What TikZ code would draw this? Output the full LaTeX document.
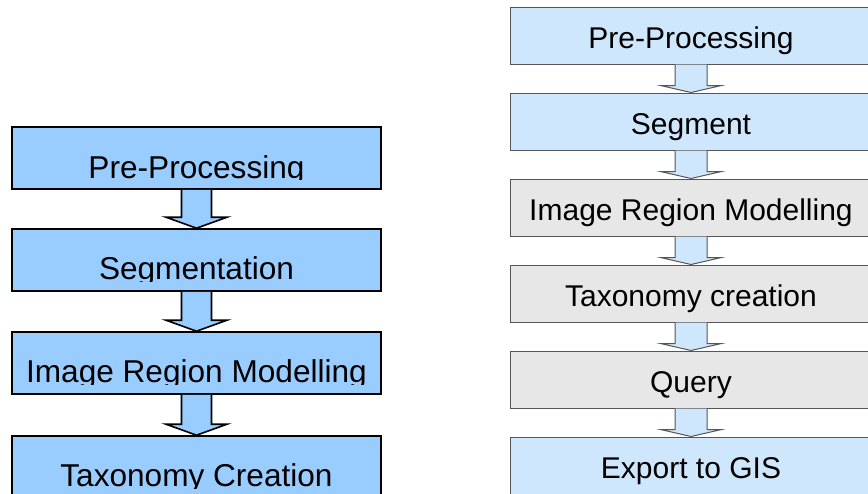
\documentclass[tikz,border=0pt]{standalone}
\usepackage{fontspec}
\setmainfont{Liberation Sans}
\usepackage{tikz}
\usetikzlibrary{calc}
\usepackage{xcolor}

\definecolor{leftblue}{RGB}{153,204,255}
\definecolor{paleblue}{RGB}{207,231,252}
\definecolor{palegrey}{RGB}{231,231,231}
\definecolor{edgegrey}{RGB}{85,85,85}

\tikzset{
  leftbox/.style={draw=black, line width=1.6pt, fill=leftblue, minimum width=369pt, minimum height=62pt, inner sep=0pt},
  lefttext/.style={anchor=base, inner sep=0pt, font=\fontsize{31.6}{36}\selectfont},
  leftarrow/.style={draw=black, line width=1.6pt, fill=leftblue},
  rightbox/.style={draw=edgegrey, line width=1pt, fill=paleblue, minimum width=362pt, minimum height=57pt, inner sep=0pt, text height=25pt, text depth=0pt, font=\fontsize{30}{34}\selectfont},
  greybox/.style={rightbox, fill=palegrey},
  rightarrow/.style={draw=edgegrey, line width=1pt, fill=paleblue},
}

% block arrow: style, from, to, shaft half width, head half width, head length
\newcommand{\blockarrow}[6]{%
  \draw[#1] ($(#2.south)+(-#4,0)$) -- ($(#3.north)+(-#4,-#6)$) -- ($(#3.north)+(-#5,-#6)$) -- (#3.north) -- ($(#3.north)+(#5,-#6)$) -- ($(#3.north)+(#4,-#6)$) -- ($(#2.south)+(#4,0)$);
}

\begin{document}
\begin{tikzpicture}[x=1pt,y=1pt,yscale=-1]
  \useasboundingbox (0,0) rectangle (868,493);
  \clip (0,0) rectangle (868,493);

  % Left flow
  \node[leftbox] (lpre) at (196.5,158) {};
  \node[leftbox] (lseg) at (196.5,260) {};
  \node[leftbox] (lirm) at (196.5,363) {};
  \node[leftbox] (ltax) at (196.5,467) {};

  % labels cut just under the baseline
  \begin{scope}
    \clip (lpre.north west) rectangle ($(lpre.center)+(180,21)$);
    \node[lefttext] (lpretext) at ($(lpre.center)+(0,20)$) {Pre-Processing};
  \end{scope}
  \begin{scope}
    \clip (lseg.north west) rectangle ($(lseg.center)+(180,21)$);
    \node[lefttext] (lsegtext) at ($(lseg.center)+(0,19.5)$) {Segmentation};
  \end{scope}
  \begin{scope}
    \clip (lirm.north west) rectangle ($(lirm.center)+(180,21)$);
    \node[lefttext] (lirmtext) at ($(lirm.center)+(0,19.5)$) {Image Region Modelling};
  \end{scope}
  \begin{scope}
    \clip (ltax.north west) rectangle ($(ltax.center)+(180,21)$);
    \node[lefttext] (ltaxtext) at ($(ltax.center)+(0,19)$) {Taxonomy Creation};
  \end{scope}

  \blockarrow{leftarrow}{lpre}{lseg}{15}{30.5}{11}
  \blockarrow{leftarrow}{lseg}{lirm}{15}{30.5}{11}
  \blockarrow{leftarrow}{lirm}{ltax}{15}{30.5}{11}

  % Right flow
  \node[rightbox] (rpre) at (691,35.5) {Pre-Processing};
  \node[rightbox] (rseg) at (691,121.5) {Segment};
  \node[greybox] (rirm) at (691,207.5) {Image Region Modelling};
  \node[greybox] (rtax) at (691,293.5) {Taxonomy creation};
  \node[greybox] (rqry) at (691,379.5) {Query};
  \node[rightbox] (rgis) at (691,465.5) {Export to GIS};

  \blockarrow{rightarrow}{rpre}{rseg}{16}{30.5}{7}
  \blockarrow{rightarrow}{rseg}{rirm}{16}{30.5}{7}
  \blockarrow{rightarrow}{rirm}{rtax}{16}{30.5}{7}
  \blockarrow{rightarrow}{rtax}{rqry}{16}{30.5}{7}
  \blockarrow{rightarrow}{rqry}{rgis}{16}{30.5}{7}
\end{tikzpicture}
\end{document}
